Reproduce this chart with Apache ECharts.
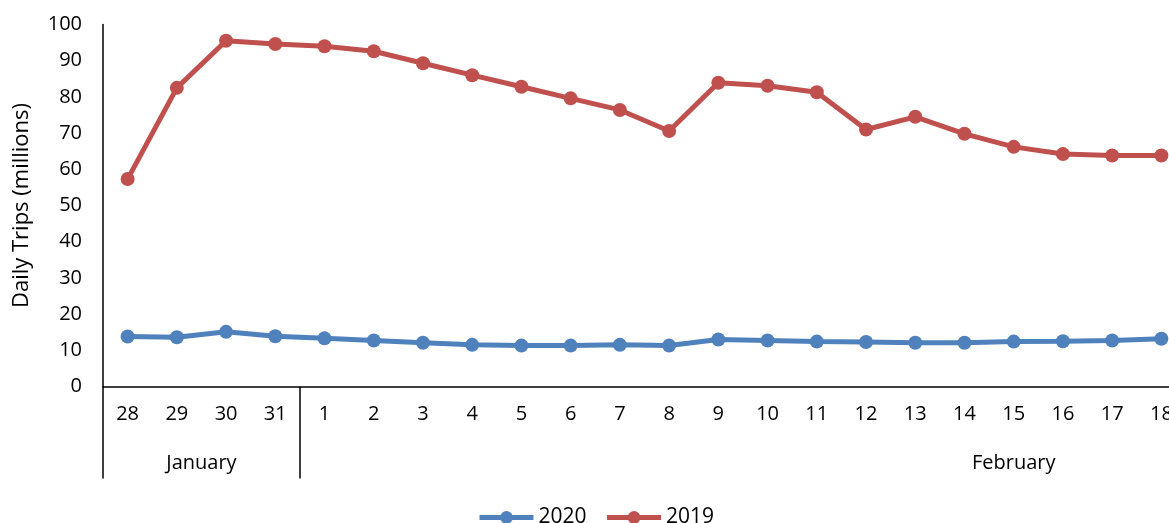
<!DOCTYPE html>
<html>
<head>
<meta charset="utf-8">
<script src="https://cdn.jsdelivr.net/npm/echarts@6/dist/echarts.min.js"></script>
<style>
html,body{margin:0;padding:0;background:#fff;}
#chart{width:1169px;height:523px;}
</style>
</head>
<body>
<div id="chart"></div>
<script>
const categories = ['28','29','30','31','1','2','3','4','5','6','7','8','9','10','11','12','13','14','15','16','17','18'];
const months = ['January', 'February'];
const monthDays = [4, 29];
const series2020 = [13.8, 13.6, 15.1, 13.9, 13.3, 12.7, 12.1, 11.5, 11.3, 11.3, 11.5, 11.3, 13.0, 12.7, 12.4, 12.3, 12.1, 12.1, 12.4, 12.5, 12.7, 13.2];
const series2019 = [57.3, 82.5, 95.5, 94.6, 94.0, 92.6, 89.3, 86.0, 82.8, 79.6, 76.4, 70.6, 83.9, 83.1, 81.3, 71.0, 74.5, 69.8, 66.2, 64.2, 63.8, 63.8];
const yMin = 0, yMax = 100, yInterval = 10;

const FONT = 'Open Sans';
const chart = echarts.init(document.getElementById('chart'), null, {renderer: 'canvas'});

const groupStarts = [];
let acc = 0;
monthDays.forEach(d => { groupStarts.push(acc); acc += d; });

const option = {
  animation: false,
  textStyle: {fontFamily: FONT},
  grid: {left: 103, width: 1083, top: 24.5, height: 362, containLabel: false, outerBoundsMode: 'none'},
  legend: {
    top: 502,
    left: 472,
    itemWidth: 54,
    itemHeight: 16,
    itemGap: 18,
    lineStyle: {width: 5},
    textStyle: {fontFamily: FONT, fontSize: 21, color: '#000'},
    data: ['2020', '2019']
  },
  xAxis: {
    type: 'category',
    data: categories,
    boundaryGap: true,
    axisLine: {lineStyle: {color: '#000', width: 1.5}},
    axisTick: {
      show: true,
      length: 92,
      interval: function (idx) { return groupStarts.indexOf(idx) !== -1; },
      lineStyle: {color: '#000', width: 1.5}
    },
    axisLabel: {fontFamily: FONT, fontSize: 20, color: '#000', margin: 18, interval: 0}
  },
  yAxis: {
    type: 'value',
    min: yMin, max: yMax, interval: yInterval,
    name: 'Daily Trips (millions)',
    nameLocation: 'middle',
    nameGap: 70,
    nameTextStyle: {fontFamily: FONT, fontSize: 22, color: '#000'},
    axisLine: {show: true, lineStyle: {color: '#000', width: 1.5}},
    axisTick: {show: false},
    splitLine: {show: false},
    axisLabel: {fontFamily: FONT, fontSize: 20, color: '#000', margin: 21}
  },
  series: [
    {
      name: '2020', type: 'line', data: series2020,
      symbol: 'circle', symbolSize: 14,
      itemStyle: {color: '#4F81BD'},
      lineStyle: {color: '#4F81BD', width: 5}
    },
    {
      name: '2019', type: 'line', data: series2019,
      symbol: 'circle', symbolSize: 14,
      itemStyle: {color: '#C0504D'},
      lineStyle: {color: '#C0504D', width: 5}
    }
  ]
};
chart.setOption(option);

const graphics = months.map((m, i) => {
  const start = groupStarts[i];
  const end = start + monthDays[i] - 1;
  const pa = chart.convertToPixel({xAxisIndex: 0}, start);
  const step = chart.convertToPixel({xAxisIndex: 0}, 1) - chart.convertToPixel({xAxisIndex: 0}, 0);
  const cx = pa + (end - start) / 2 * step;
  const y0 = chart.convertToPixel({yAxisIndex: 0}, 0);
  return {
    type: 'text',
    x: cx, y: y0 + 77,
    style: {text: m, font: '20px "' + FONT + '"', fill: '#000', align: 'center', verticalAlign: 'middle'}
  };
});
chart.setOption({graphic: graphics});
</script>
</body>
</html>
